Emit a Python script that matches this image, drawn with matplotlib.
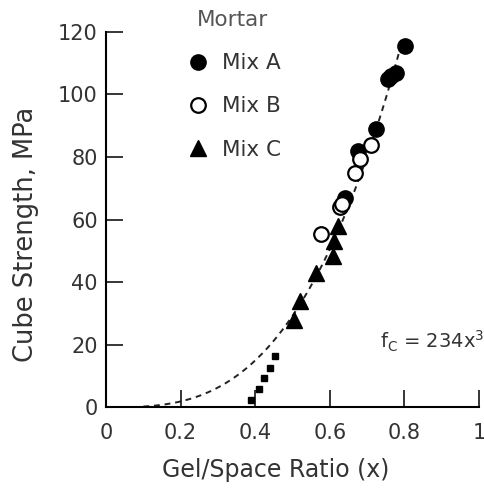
import numpy as np
import matplotlib.pyplot as plt

plt.rcParams["font.family"] = ["DejaVu Sans"]
plt.rcParams["mathtext.fontset"] = "dejavusans"

TEXT = "#333333"

# Mix A (filled circles)
mix_a_x = [0.641, 0.676, 0.723, 0.755, 0.765, 0.777, 0.802]
mix_a_y = [67, 82, 89, 105, 106, 107, 115.5]
# Mix B (open circles)
mix_b_x = [0.575, 0.627, 0.632, 0.667, 0.680, 0.710]
mix_b_y = [55.5, 64, 65, 75, 79.5, 84]
# Mix C (triangles)
mix_c_x = [0.503, 0.521, 0.564, 0.609, 0.612, 0.622]
mix_c_y = [28, 34, 43, 48.5, 53, 58]
# small squares near the x-axis
sq_x = [0.390, 0.409, 0.423, 0.439, 0.454]
sq_y = [2.2, 5.8, 9.3, 12.5, 16.3]

fit_coef = 234
fit_x = np.linspace(0.1, 0.79, 200)
fit_y = fit_coef * fit_x ** 3

fig = plt.figure(figsize=(4.85, 4.91), dpi=100)
ax = fig.add_axes([0.2186, 0.1705, 0.7691, 0.7645])

ax.plot(fit_x, fit_y, color="#222222", lw=1.4, ls=(0, (3, 2.5)), zorder=1)
ax.plot(sq_x, sq_y, ls="none", marker="s", ms=4.5, color="black", zorder=2)
ax.plot(mix_a_x, mix_a_y, ls="none", marker="o", ms=11, mfc="black",
        mec="black", label="Mix A", zorder=3)
ax.plot(mix_b_x, mix_b_y, ls="none", marker="o", ms=10.5, mfc="white",
        mec="black", mew=1.6, label="Mix B", zorder=3)
ax.plot(mix_c_x, mix_c_y, ls="none", marker="^", ms=11.5, color="black",
        label="Mix C", zorder=3)

ax.set_xlim(0, 1)
ax.set_ylim(0, 120)
ax.set_xticks([0, 0.2, 0.4, 0.6, 0.8, 1])
ax.set_xticklabels(["0", "0.2", "0.4", "0.6", "0.8", "1"])
ax.set_yticks([0, 20, 40, 60, 80, 100, 120])
ax.tick_params(direction="in", length=12.5, width=1.1, labelsize=15,
               labelcolor=TEXT)
ax.tick_params(axis="x", pad=11)
ax.tick_params(axis="y", pad=6)
for side in ["top", "right"]:
    ax.spines[side].set_visible(False)
for side in ["left", "bottom"]:
    ax.spines[side].set_linewidth(1.5)

ax.set_xlabel("Gel/Space Ratio (x)", fontsize=17, color=TEXT)
ax.set_ylabel("Cube Strength, MPa", fontsize=18.5, color=TEXT)
ax.xaxis.set_label_coords(0.455, -0.135)
ax.yaxis.set_label_coords(-0.18, 0.46)

leg = ax.legend(loc="upper left", bbox_to_anchor=(0.16, 1.11), frameon=False,
                title="Mortar", fontsize=15.5, title_fontsize=15.5,
                labelspacing=1.08, handletextpad=0.5, handlelength=1.2)
for t in leg.get_texts():
    t.set_color(TEXT)
leg.get_title().set_color("#555555")

ax.text(0.735, 21, r"f$_\mathregular{C}$ = 234x$^\mathregular{3}$",
        fontsize=14, color=TEXT, va="center")

fig.savefig("out.png", dpi=100)
